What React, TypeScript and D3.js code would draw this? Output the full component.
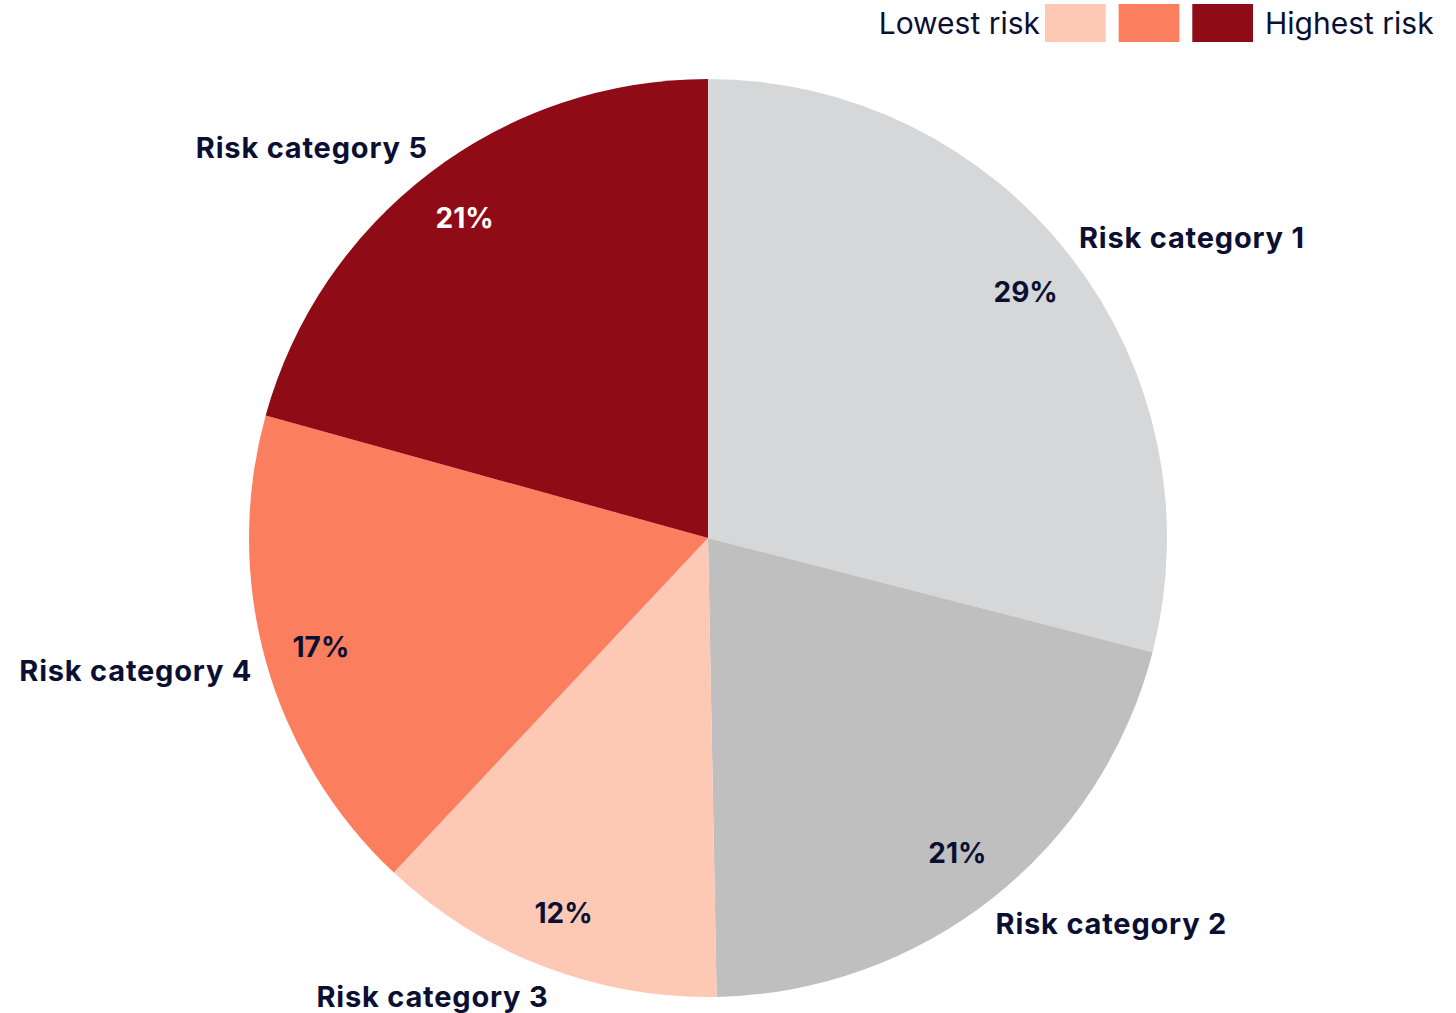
import React from "react";
import * as d3 from "d3";

const categories = ["Risk category 1", "Risk category 2", "Risk category 3", "Risk category 4", "Risk category 5"];
const values = [29.0, 20.7, 12.3, 17.3, 20.7];
const valueLabels = ["29%", "21%", "12%", "17%", "21%"];
const colors = ["#d6d7d9", "#bfbfbf", "#fdc9b5", "#fb7e5f", "#8f0b15"];
const pctColors = ["#0b1033", "#0b1033", "#0b1033", "#0b1033", "#ffffff"];
const legendColors = ["#fdc9b5", "#fb7e5f", "#8f0b15"];
const legendLabels = ["Lowest risk", "Highest risk"];

const W = 1456;
const H = 1013;
const cx = 708;
const cy = 538;
const R = 459;
const FONT = "Inter, 'Noto Sans', sans-serif";
const TEXT = "#0b1033";

export default function App() {
  const pie = d3.pie<number>().sort(null).value((d) => d);
  const arcs = pie(values);
  const arcGen = d3.arc<d3.PieArcDatum<number>>().innerRadius(0).outerRadius(R);
  const pctArc = d3.arc<d3.PieArcDatum<number>>().innerRadius(402).outerRadius(402);
  const lblArc = d3.arc<d3.PieArcDatum<number>>().innerRadius(491).outerRadius(491);

  const swX = d3.scaleBand<number>().domain([0, 1, 2]).range([1045, 1253]).paddingInner(0.176);

  return (
    <svg width={W} height={H} style={{ position: "absolute", left: 0, top: 0 }} fontFamily={FONT}>
      <rect width={W} height={H} fill="#fff" />
      <g transform={`translate(${cx},${cy})`}>
        {arcs.map((a, i) => (
          <path key={i} d={arcGen(a) || ""} fill={colors[i]} />
        ))}
        {arcs.map((a, i) => {
          const [x, y] = pctArc.centroid(a);
          return (
            <text key={"p" + i} x={x} y={y} textAnchor="middle" dominantBaseline="central" fontSize={28} fontWeight={700} fill={pctColors[i]}>
              {valueLabels[i]}
            </text>
          );
        })}
        {arcs.map((a, i) => {
          const [x, y] = lblArc.centroid(a);
          const mid = (a.startAngle + a.endAngle) / 2;
          const right = mid < Math.PI;
          return (
            <text key={"l" + i} x={right ? x - 17 : x + 17} y={y} textAnchor={right ? "start" : "end"} dominantBaseline="central" fontSize={29} fontWeight={700} letterSpacing={0.8} fill={TEXT}>
              {categories[i]}
            </text>
          );
        })}
      </g>
      <g>
        <text x={1040} y={23} textAnchor="end" dominantBaseline="central" fontSize={30} fill={TEXT}>
          {legendLabels[0]}
        </text>
        {legendColors.map((c, i) => (
          <rect key={i} x={swX(i)} y={4} width={swX.bandwidth()} height={38} fill={c} />
        ))}
        <text x={1265} y={23} textAnchor="start" dominantBaseline="central" fontSize={30} fill={TEXT}>
          {legendLabels[1]}
        </text>
      </g>
    </svg>
  );
}
